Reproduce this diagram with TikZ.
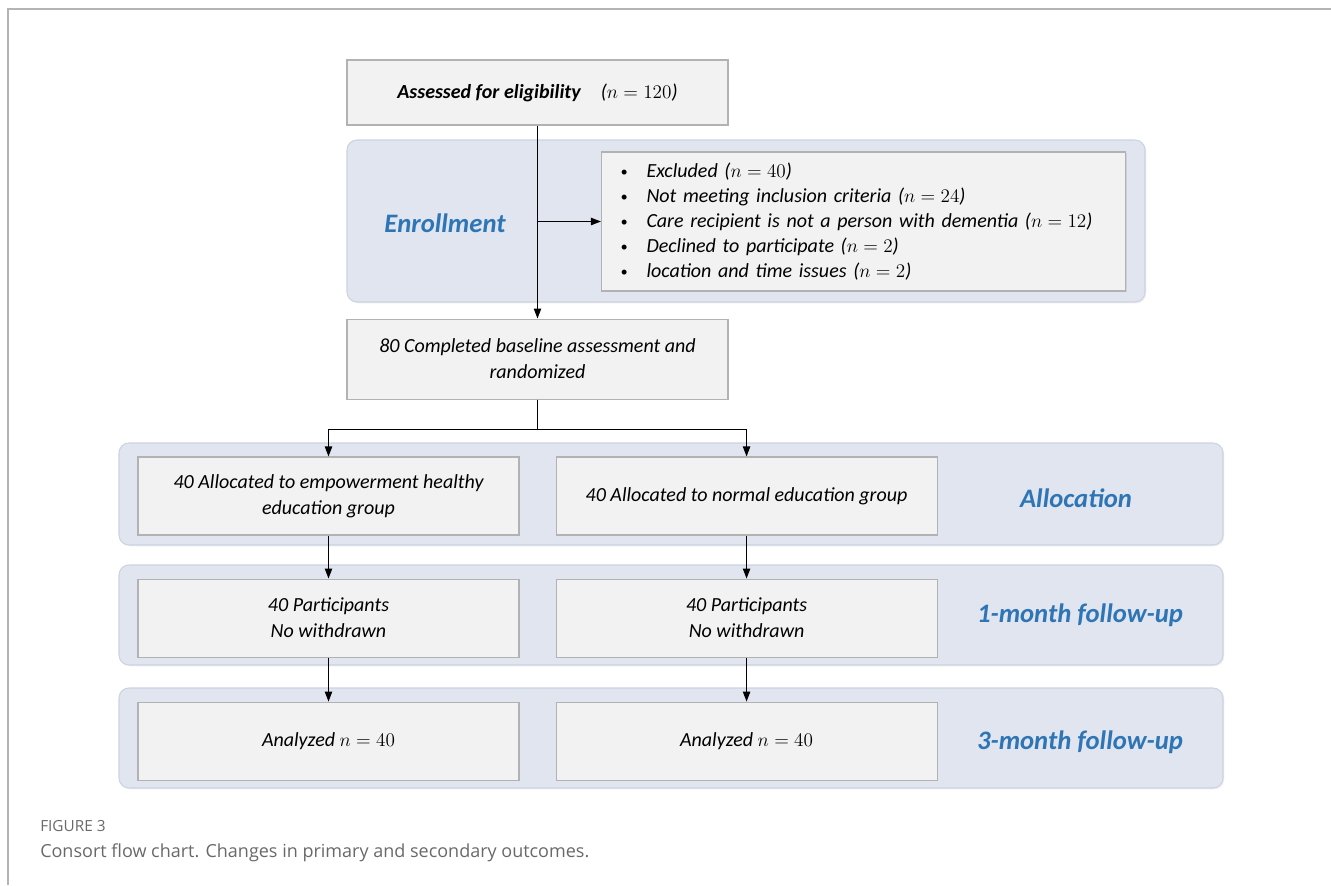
\documentclass[tikz,border=0pt]{standalone}
\usepackage{fontspec}
\setmainfont{Carlito}
\newfontfamily\capfont{Open Sans}
\usepackage{tikz}
\usetikzlibrary{arrows, arrows.meta, shapes, positioning, shadows}
\definecolor{boxgray}{RGB}{242,242,242}
\definecolor{boxline}{RGB}{178,178,178}
\definecolor{panelfill}{RGB}{224,229,239}
\definecolor{panelline}{RGB}{204,211,225}
\definecolor{stageblue}{RGB}{46,117,182}
\definecolor{capgray}{RGB}{105,105,105}
\definecolor{framegray}{RGB}{180,180,180}
\newcommand{\exbullet}{\makebox[18pt][l]{\hspace{-1.5pt}\raisebox{1pt}{\fontsize{10.5}{10}\selectfont\textbullet}}}

\begin{document}
\begin{tikzpicture}[x=0.75pt,y=-0.75pt,>={Triangle[length=7.5pt,width=5.5pt]},
  box node/.style={rectangle,draw=boxline,fill=boxgray,line width=0.8pt,
  font=\itshape\fontsize{15}{19.5}\selectfont,align=center,
  minimum width=285.75pt,minimum height=58.5pt,
  drop shadow={shadow xshift=1pt,shadow yshift=-1pt,opacity=0.2}},
  stage panel/.style={draw=panelline,fill=panelfill,line width=0.8pt,rounded corners=7.5pt,
  drop shadow={shadow xshift=1pt,shadow yshift=-1pt,opacity=0.12}},
  stage label/.style={font=\bfseries\itshape\fontsize{20}{24}\selectfont,text=stageblue},
  caption text/.style={anchor=base west,inner sep=0pt,text=capgray}]
  \useasboundingbox (0,0) rectangle (1331,885);
  \draw[framegray,line width=1.5pt] (8,885) -- (8,8.5) -- (1331,8.5);

  % stage panels
  \draw[stage panel] (347,140) rectangle (1145,302);
  \draw[stage panel] (119,443) rectangle (1223,545);
  \draw[stage panel] (119,565) rectangle (1223,665);
  \draw[stage panel] (119,688) rectangle (1223,788);

  \node[box node, minimum height=48.75pt] (assess) at (537.5,92.5)
    {\textbf{Assessed for eligibility}\quad ($n=120$)};
  \node[box node, minimum width=393pt, minimum height=104.25pt, align=left,
    text width=361.5pt, inner xsep=15.75pt, font=\itshape\fontsize{15}{18.75}\selectfont]
    (excl) at (863.5,221.5) {%
    \exbullet Excluded ($n=40$)\\
    \exbullet Not meeting inclusion criteria ($n=24$)\\
    \exbullet Care recipient is not a person with dementia ($n=12$)\\
    \exbullet Declined to participate ($n=2$)\\
    \exbullet location and time issues ($n=2$)};
  \node[stage label] (enrol) at (445,223) {Enrollment};
  \node[box node, minimum height=60pt] (base) [below=144.75pt of assess]
    {80 Completed baseline assessment and\\randomized};

  \node[box node] (alloc1) at (328.5,496) {40 Allocated to empowerment healthy\\education group};
  \node[box node] (alloc2) [right=27pt of alloc1] {40 Allocated to normal education group};
  \node[stage label] (alloc) at (1076,498) {Allocation};

  \node[box node] (month1a) [below=32.25pt of alloc1] {40 Participants\\No withdrawn};
  \node[box node] (month1b) [below=32.25pt of alloc2] {40 Participants\\No withdrawn};
  \node[stage label] (month1) at (1080,615) {1-month follow-up};

  \node[box node] (month3a) [below=33pt of month1a] {Analyzed $n=40$};
  \node[box node] (month3b) [below=33pt of month1b] {Analyzed $n=40$};
  \node[stage label] (month3) at (1080,742) {3-month follow-up};

  \coordinate (split) at ([yshift=-22.5pt]base.south);
  \path[->,line width=0.9pt]
    (assess) edge (base)
    (assess.south |- excl.west) edge (excl.west)
    (alloc1) edge (month1a)
    (alloc2) edge (month1b)
    (month1a) edge (month3a)
    (month1b) edge (month3b);
  \draw[line width=0.9pt] (base.south) -- (split);
  \draw[->,line width=0.9pt] (split) -| (alloc1.north);
  \draw[->,line width=0.9pt] (split) -| (alloc2.north);

  \node[caption text, font=\capfont\fontsize{11.5}{13}\selectfont] (fignum) at (40,831) {FIGURE 3};
  \node[caption text, font=\capfont\fontsize{13.5}{16}\selectfont] (caption) at (40,857)
    {Consort flow chart. Changes in primary and secondary outcomes.};
\end{tikzpicture}
\end{document}
